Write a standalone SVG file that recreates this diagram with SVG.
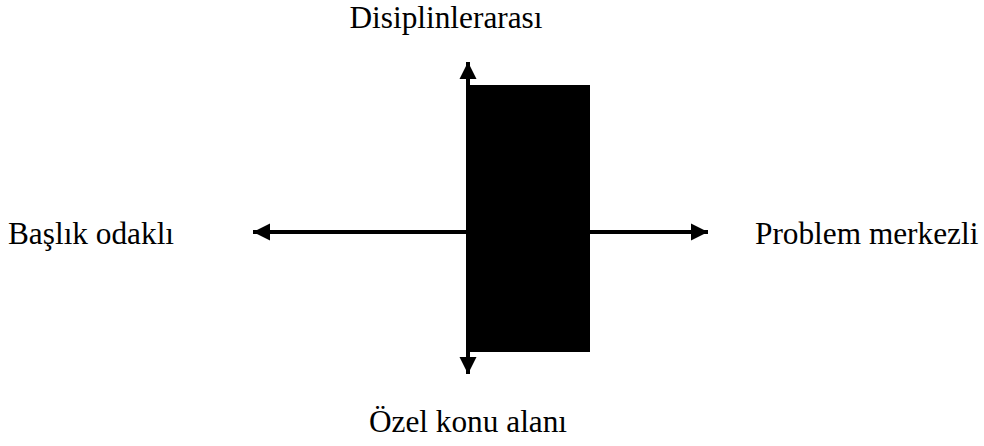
<svg xmlns="http://www.w3.org/2000/svg" width="984" height="446" viewBox="0 0 984 446">
<style>
.t{font-family:"Liberation Serif","Times New Roman",serif;font-size:31.3px;fill:#000}
.ln{stroke:#000;stroke-width:4;fill:none}
</style>
<defs>
<marker id="ah" viewBox="0 0 10 10" refX="10" refY="5" markerWidth="4.3" markerHeight="4.3" orient="auto" markerUnits="strokeWidth">
<path d="M0,0 L10,5 L0,10 z" fill="#000"/>
</marker>
</defs>
<g id="connectors">
<line class="ln" x1="470" y1="232" x2="253" y2="232" marker-end="url(#ah)"/>
<line class="ln" x1="470" y1="232" x2="708" y2="232" marker-end="url(#ah)"/>
<line class="ln" x1="468" y1="232" x2="468" y2="62" marker-end="url(#ah)"/>
<line class="ln" x1="468" y1="232" x2="468" y2="374" marker-end="url(#ah)"/>
</g>
<g id="box"><rect x="470" y="85" width="120" height="267" fill="#000"/></g>
<g id="top"><text class="t" x="446" y="28" text-anchor="middle">Disiplinlerarası</text></g>
<g id="bottom"><text class="t" x="468" y="432" text-anchor="middle">Özel konu alanı</text></g>
<g id="left"><text class="t" x="8" y="244">Başlık odaklı</text></g>
<g id="right"><text class="t" x="755" y="244">Problem merkezli</text></g>
</svg>
